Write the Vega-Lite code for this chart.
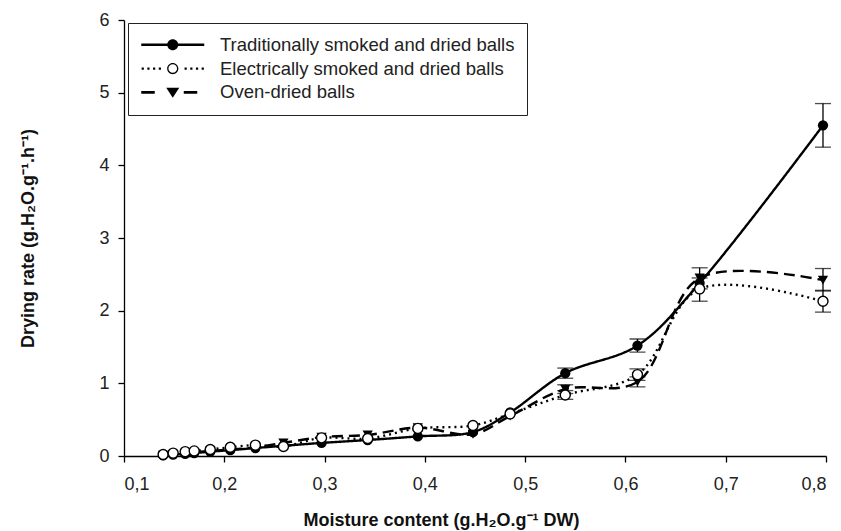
{
  "$schema": "https://vega.github.io/schema/vega-lite/v6.json",
  "width": 702,
  "height": 436,
  "autosize": "none",
  "padding": {"left": 124, "top": 20, "right": 15, "bottom": 75},
  "background": "white",
  "config": {
    "view": {"stroke": null},
    "font": "Liberation Sans",
    "axis": {
      "grid": false,
      "domainColor": "black",
      "domainWidth": 1.3,
      "tickColor": "black",
      "tickWidth": 1.3,
      "tickSize": 6,
      "labelFont": "Liberation Sans",
      "labelFontSize": 18,
      "labelColor": "#222",
      "titleFont": "Liberation Sans",
      "titleFontSize": 18,
      "titleFontWeight": "bold",
      "titleColor": "#111"
    }
  },
  "data": {
    "values": [
      {"series": "Traditionally smoked and dried balls", "x": 0.139, "y": 0.01},
      {"series": "Traditionally smoked and dried balls", "x": 0.149, "y": 0.02},
      {"series": "Traditionally smoked and dried balls", "x": 0.161, "y": 0.03},
      {"series": "Traditionally smoked and dried balls", "x": 0.170, "y": 0.04},
      {"series": "Traditionally smoked and dried balls", "x": 0.186, "y": 0.06},
      {"series": "Traditionally smoked and dried balls", "x": 0.206, "y": 0.08},
      {"series": "Traditionally smoked and dried balls", "x": 0.231, "y": 0.11},
      {"series": "Traditionally smoked and dried balls", "x": 0.259, "y": 0.14},
      {"series": "Traditionally smoked and dried balls", "x": 0.297, "y": 0.18},
      {"series": "Traditionally smoked and dried balls", "x": 0.343, "y": 0.22},
      {"series": "Traditionally smoked and dried balls", "x": 0.393, "y": 0.27},
      {"series": "Traditionally smoked and dried balls", "x": 0.448, "y": 0.33},
      {"series": "Traditionally smoked and dried balls", "x": 0.485, "y": 0.6},
      {"series": "Traditionally smoked and dried balls", "x": 0.54, "y": 1.14, "lo": 1.07, "hi": 1.21},
      {"series": "Traditionally smoked and dried balls", "x": 0.612, "y": 1.52, "lo": 1.43, "hi": 1.61},
      {"series": "Traditionally smoked and dried balls", "x": 0.674, "y": 2.38},
      {"series": "Traditionally smoked and dried balls", "x": 0.797, "y": 4.55, "lo": 4.25, "hi": 4.85},
      {"series": "Electrically smoked and dried balls", "x": 0.139, "y": 0.02},
      {"series": "Electrically smoked and dried balls", "x": 0.149, "y": 0.04},
      {"series": "Electrically smoked and dried balls", "x": 0.161, "y": 0.06},
      {"series": "Electrically smoked and dried balls", "x": 0.170, "y": 0.07},
      {"series": "Electrically smoked and dried balls", "x": 0.186, "y": 0.09},
      {"series": "Electrically smoked and dried balls", "x": 0.206, "y": 0.12},
      {"series": "Electrically smoked and dried balls", "x": 0.231, "y": 0.15},
      {"series": "Electrically smoked and dried balls", "x": 0.259, "y": 0.13},
      {"series": "Electrically smoked and dried balls", "x": 0.297, "y": 0.25},
      {"series": "Electrically smoked and dried balls", "x": 0.343, "y": 0.24},
      {"series": "Electrically smoked and dried balls", "x": 0.393, "y": 0.38},
      {"series": "Electrically smoked and dried balls", "x": 0.448, "y": 0.42},
      {"series": "Electrically smoked and dried balls", "x": 0.485, "y": 0.58},
      {"series": "Electrically smoked and dried balls", "x": 0.54, "y": 0.84, "lo": 0.78, "hi": 0.9},
      {"series": "Electrically smoked and dried balls", "x": 0.612, "y": 1.12, "lo": 1.04, "hi": 1.2},
      {"series": "Electrically smoked and dried balls", "x": 0.674, "y": 2.3, "lo": 2.13, "hi": 2.45},
      {"series": "Electrically smoked and dried balls", "x": 0.797, "y": 2.13, "lo": 1.98, "hi": 2.28},
      {"series": "Oven-dried balls", "x": 0.139, "y": 0.01},
      {"series": "Oven-dried balls", "x": 0.149, "y": 0.02},
      {"series": "Oven-dried balls", "x": 0.161, "y": 0.03},
      {"series": "Oven-dried balls", "x": 0.170, "y": 0.05},
      {"series": "Oven-dried balls", "x": 0.186, "y": 0.07},
      {"series": "Oven-dried balls", "x": 0.206, "y": 0.09},
      {"series": "Oven-dried balls", "x": 0.231, "y": 0.12},
      {"series": "Oven-dried balls", "x": 0.259, "y": 0.18},
      {"series": "Oven-dried balls", "x": 0.297, "y": 0.26},
      {"series": "Oven-dried balls", "x": 0.343, "y": 0.29},
      {"series": "Oven-dried balls", "x": 0.393, "y": 0.39},
      {"series": "Oven-dried balls", "x": 0.448, "y": 0.3},
      {"series": "Oven-dried balls", "x": 0.485, "y": 0.55},
      {"series": "Oven-dried balls", "x": 0.54, "y": 0.92, "lo": 0.86, "hi": 0.98},
      {"series": "Oven-dried balls", "x": 0.612, "y": 1.02, "lo": 0.95, "hi": 1.09},
      {"series": "Oven-dried balls", "x": 0.674, "y": 2.45, "lo": 2.3, "hi": 2.59},
      {"series": "Oven-dried balls", "x": 0.797, "y": 2.42, "lo": 2.27, "hi": 2.58}
    ]
  },
  "layer": [
    {
      "mark": {"type": "line", "interpolate": "catmull-rom", "color": "black", "strokeWidth": 2.4, "strokeCap": "butt"},
      "encoding": {
        "x": {"field": "x", "type": "quantitative", "scale": {"domain": [0.1, 0.8]},
              "axis": {"values": [0.1, 0.2, 0.3, 0.4, 0.5, 0.6, 0.7, 0.8], "labelExpr": "replace(format(datum.value, '.1f'), '.', ',')", "labelPadding": 13, "title": "Moisture content (g.H₂O.g⁻¹ DW)", "titlePadding": 18, "titleX": 317, "titleAnchor": "middle"}},
        "y": {"field": "y", "type": "quantitative", "scale": {"domain": [0, 6]},
              "axis": {"values": [0, 1, 2, 3, 4, 5, 6], "format": "d", "labelPadding": 9, "title": "Drying rate (g.H₂O.g⁻¹.h⁻¹)", "titlePadding": 61}},
        "detail": {"field": "series", "type": "nominal"},
        "strokeDash": {"field": "series", "type": "nominal", "legend": null,
                       "scale": {"range": [[2, 4], [11, 6], [1, 0]]}}
      }
    },
    {
      "transform": [{"filter": "isValid(datum.lo)"}],
      "mark": {"type": "errorbar", "ticks": {"size": 16, "thickness": 1.3, "color": "black"}, "rule": {"strokeWidth": 1.3, "color": "black"}},
      "encoding": {
        "x": {"field": "x", "type": "quantitative", "title": "Moisture content (g.H₂O.g⁻¹ DW)"},
        "y": {"field": "lo", "type": "quantitative", "title": "Drying rate (g.H₂O.g⁻¹.h⁻¹)"},
        "y2": {"field": "hi"}
      }
    },
    {
      "transform": [{"filter": "datum.series !== 'Electrically smoked and dried balls'"}],
      "mark": {"type": "point", "filled": true, "color": "black", "size": 105, "opacity": 1},
      "encoding": {
        "x": {"field": "x", "type": "quantitative", "title": "Moisture content (g.H₂O.g⁻¹ DW)"},
        "y": {"field": "y", "type": "quantitative", "title": "Drying rate (g.H₂O.g⁻¹.h⁻¹)"},
        "shape": {
          "field": "series", "type": "nominal",
          "condition": [
            {"test": "datum.series === 'Oven-dried balls'", "value": "triangle-down"},
            {"test": "true", "value": "circle"}
          ],
          "scale": {
            "domain": ["Traditionally smoked and dried balls", "Electrically smoked and dried balls", "Oven-dried balls"],
            "range": [
              "M-31.5,-1.3L-5,-1.3L-5,1.3L-31.5,1.3ZM5,-1.3L31.5,-1.3L31.5,1.3L5,1.3ZM-5.5,0A5.5,5.5 0 1,1 5.5,0A5.5,5.5 0 1,1 -5.5,0Z",
              "M-31.1,-1.1L-28.9,-1.1L-28.9,1.1L-31.1,1.1ZM-25.4,-1.1L-23.2,-1.1L-23.2,1.1L-25.4,1.1ZM-19.7,-1.1L-17.5,-1.1L-17.5,1.1L-19.7,1.1ZM-14,-1.1L-11.8,-1.1L-11.8,1.1L-14,1.1ZM11.8,-1.1L14,-1.1L14,1.1L11.8,1.1ZM17.5,-1.1L19.7,-1.1L19.7,1.1L17.5,1.1ZM23.2,-1.1L25.4,-1.1L25.4,1.1L23.2,1.1ZM28.9,-1.1L31.1,-1.1L31.1,1.1L28.9,1.1ZM-5.6,0A5.6,5.6 0 1,1 5.6,0A5.6,5.6 0 1,1 -5.6,0ZM-4.3,0A4.3,4.3 0 1,0 4.3,0A4.3,4.3 0 1,0 -4.3,0Z",
              "M-31.5,-1.3L-18,-1.3L-18,1.3L-31.5,1.3ZM11,-1.3L24.5,-1.3L24.5,1.3L11,1.3ZM-6.5,-4.5L6.5,-4.5L0,5.5Z"
            ]
          },
          "legend": {
            "orient": "none", "legendX": 4, "legendY": 3, "title": null,
            "symbolSize": 4, "symbolOffset": 23, "labelOffset": 38, "labelLimit": 0,
            "labelFontSize": 18.5, "labelFont": "Liberation Sans", "labelColor": "#222",
            "padding": 12.5, "rowPadding": 4.8, "strokeColor": "#222", "fillColor": "white",
            "symbolStrokeWidth": 0, "symbolFillColor": "black"
          }
        }
      }
    },
    {
      "transform": [{"filter": "datum.series === 'Electrically smoked and dried balls'"}],
      "mark": {"type": "point", "shape": "circle", "filled": false, "fill": "white", "stroke": "black", "strokeWidth": 1.4, "size": 100, "opacity": 1},
      "encoding": {
        "x": {"field": "x", "type": "quantitative", "title": "Moisture content (g.H₂O.g⁻¹ DW)"},
        "y": {"field": "y", "type": "quantitative", "title": "Drying rate (g.H₂O.g⁻¹.h⁻¹)"}
      }
    }
  ]
}
